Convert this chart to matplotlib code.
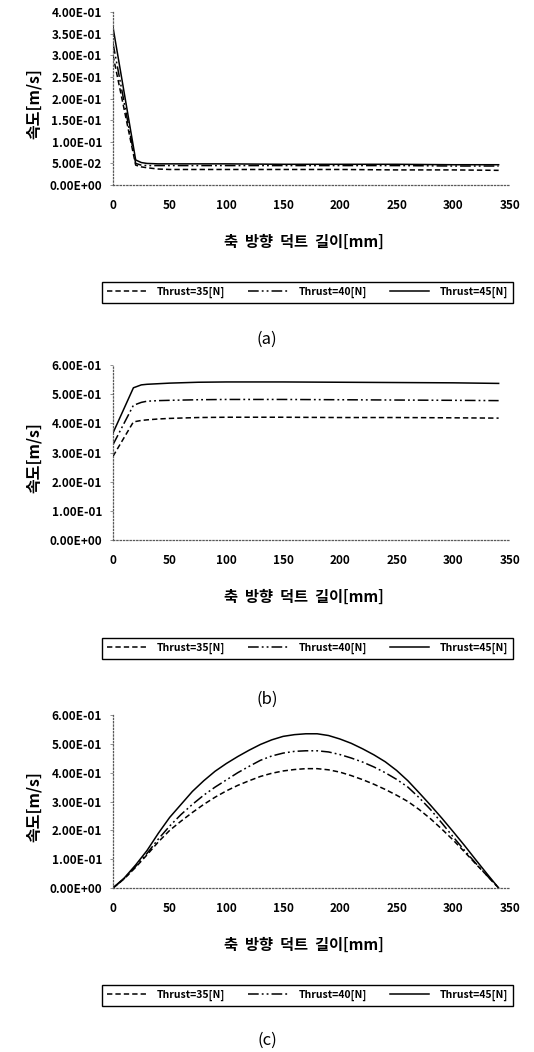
import matplotlib
matplotlib.use('Agg')
import matplotlib.pyplot as plt
from matplotlib.ticker import FuncFormatter, MultipleLocator

plt.rcParams['font.family'] = ['Noto Sans CJK KR', 'DejaVu Sans']

labels = ['Thrust=35[N]', 'Thrust=40[N]', 'Thrust=45[N]']
styles = [(0, (3.5, 2)), (0, (7, 2, 1.2, 2, 1.2, 2)), '-']

# (a)
x_a = [0, 20, 25, 30, 40, 50, 100, 150, 200, 250, 300, 340]
a_35 = [0.300, 0.046, 0.042, 0.040, 0.037, 0.036, 0.036, 0.036, 0.036, 0.035, 0.035, 0.034]
a_40 = [0.328, 0.050, 0.046, 0.045, 0.045, 0.045, 0.045, 0.045, 0.045, 0.045, 0.044, 0.044]
a_45 = [0.365, 0.058, 0.052, 0.050, 0.049, 0.049, 0.049, 0.048, 0.048, 0.048, 0.047, 0.047]

# (b)
x_b = [0, 18, 25, 30, 40, 50, 75, 100, 150, 200, 250, 300, 340]
b_35 = [0.287, 0.405, 0.410, 0.412, 0.415, 0.417, 0.420, 0.421, 0.421, 0.420, 0.420, 0.419, 0.418]
b_40 = [0.327, 0.462, 0.472, 0.476, 0.478, 0.479, 0.481, 0.482, 0.482, 0.481, 0.480, 0.479, 0.478]
b_45 = [0.367, 0.522, 0.532, 0.534, 0.536, 0.538, 0.541, 0.542, 0.542, 0.541, 0.540, 0.539, 0.537]

# (c) every 10 mm
x_c = [0, 10, 20, 30, 40, 50, 60, 70, 80, 90, 100, 110, 120, 130, 140, 150, 160, 170,
       180, 190, 200, 210, 220, 230, 240, 250, 260, 270, 280, 290, 300, 310, 320, 330, 340]
c_35 = [0, 0.032, 0.072, 0.115, 0.160, 0.200, 0.232, 0.262, 0.290, 0.315, 0.337, 0.356,
        0.372, 0.387, 0.398, 0.406, 0.411, 0.414, 0.414, 0.410, 0.402, 0.390, 0.376, 0.360,
        0.342, 0.322, 0.300, 0.272, 0.240, 0.204, 0.166, 0.125, 0.083, 0.042, 0]
c_40 = [0, 0.033, 0.075, 0.120, 0.170, 0.215, 0.255, 0.290, 0.322, 0.350, 0.375, 0.400,
        0.422, 0.443, 0.458, 0.468, 0.474, 0.476, 0.476, 0.472, 0.463, 0.451, 0.437, 0.420,
        0.400, 0.377, 0.350, 0.313, 0.272, 0.225, 0.177, 0.130, 0.085, 0.042, 0]
c_45 = [0, 0.035, 0.080, 0.130, 0.190, 0.245, 0.290, 0.335, 0.372, 0.405, 0.432, 0.456,
        0.478, 0.498, 0.514, 0.526, 0.532, 0.535, 0.535, 0.529, 0.517, 0.502, 0.483, 0.462,
        0.438, 0.408, 0.372, 0.330, 0.287, 0.242, 0.195, 0.147, 0.097, 0.048, 0]

panels = [
    (x_a, [a_35, a_40, a_45], 0.4, 0.05, [0.2116, 0.8241, 0.7434, 0.1644], '(a)', 339),
    (x_b, [b_35, b_40, b_45], 0.6, 0.1, [0.2116, 0.4867, 0.7434, 0.1663], '(b)', 699),
    (x_c, [c_35, c_40, c_45], 0.6, 0.1, [0.2116, 0.1559, 0.7434, 0.1644], '(c)', 1040),
]

fig = plt.figure(figsize=(5.34, 10.52), dpi=100)

for x, series, ymax, ystep, pos, cap, cap_y in panels:
    ax = fig.add_axes(pos)
    for y, ls, lab in zip(series, styles, labels):
        ax.plot(x, y, color='black', linestyle=ls, linewidth=1.1, label=lab)
    ax.set_xlim(0, 350)
    ax.set_ylim(0, ymax)
    ax.xaxis.set_major_locator(MultipleLocator(50))
    ax.yaxis.set_major_locator(MultipleLocator(ystep))
    ax.yaxis.set_major_formatter(FuncFormatter(lambda v, p: '{:.2E}'.format(v)))
    for s in ['top', 'right']:
        ax.spines[s].set_visible(False)
    for s in ['left', 'bottom']:
        ax.spines[s].set_linestyle(':')
        ax.spines[s].set_color('0.35')
        ax.spines[s].set_linewidth(0.9)
    ax.tick_params(axis='y', length=2, width=0.6, color='0.5', pad=6, labelsize=8.5)
    ax.tick_params(axis='x', length=0, pad=10, labelsize=8.5)
    for t in ax.get_xticklabels() + ax.get_yticklabels():
        t.set_fontweight('bold')
    ax.set_ylabel('속도[m/s]', fontsize=11.5, fontweight='bold')
    ax.yaxis.set_label_coords(-0.178, 0.47)
    ax.set_xlabel('축  방향  덕트  길이[mm]', fontsize=11, fontweight='bold')
    ax.xaxis.set_label_coords(0.48, -0.28)
    leg = ax.legend(loc='center', bbox_to_anchor=(0.49, -0.62), ncol=3, frameon=True,
                    fancybox=False, edgecolor='black', framealpha=1,
                    handlelength=3.8, handletextpad=1.0, columnspacing=2.2, borderpad=0.45,
                    prop={'weight': 'bold', 'size': 7.5})
    leg.get_frame().set_linewidth(1.0)
    fig.text(0.5, 1 - cap_y / 1052, cap, ha='center', va='center', fontsize=12)

fig.savefig('out.png', dpi=100)
